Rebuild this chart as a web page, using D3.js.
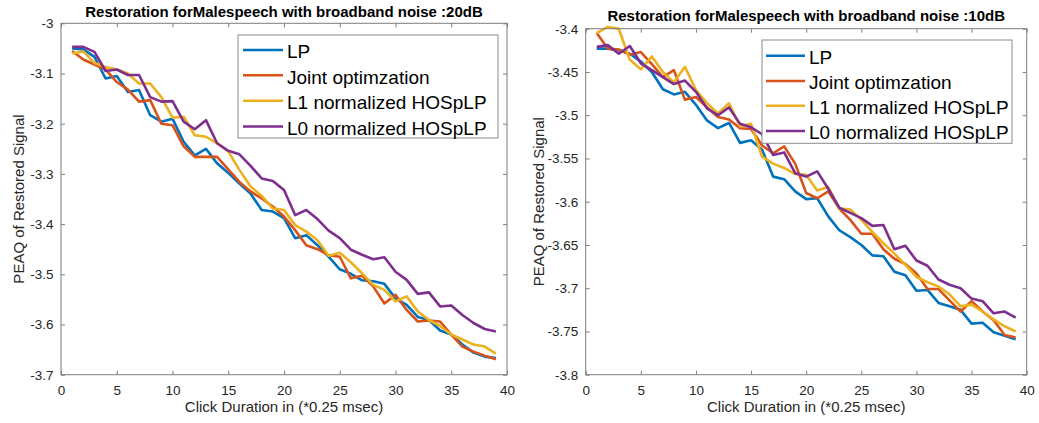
<!DOCTYPE html>
<html>
<head>
<meta charset="utf-8">
<script src="https://cdn.jsdelivr.net/npm/d3@7/dist/d3.min.js"></script>
<style>
  html, body { margin: 0; padding: 0; background: #fff; }
  svg { display: block; }
  text { font-family: "Liberation Sans", Arial, Helvetica, sans-serif; }
</style>
</head>
<body>
<svg id="chart" width="1039" height="423"></svg>
<script>
// ---------------- DATA ----------------
const clickDuration = [1,2,3,4,5,6,7,8,9,10,11,12,13,14,15,16,17,18,19,20,21,22,23,24,25,26,27,28,29,30,31,32,33,34,35,36,37,38,39];

const seriesNames = ["LP", "Joint optimzation", "L1 normalized HOSpLP", "L0 normalized HOSpLP"];

// Left panel: broadband noise 20 dB
const lp20 = [-3.050,-3.052,-3.067,-3.110,-3.105,-3.137,-3.133,-3.183,-3.196,-3.190,-3.236,-3.263,-3.250,-3.279,-3.298,-3.319,-3.339,-3.372,-3.375,-3.388,-3.428,-3.422,-3.442,-3.465,-3.490,-3.499,-3.512,-3.514,-3.519,-3.548,-3.561,-3.585,-3.591,-3.612,-3.620,-3.640,-3.656,-3.664,-3.667];
const joint20 = [-3.055,-3.072,-3.082,-3.092,-3.117,-3.132,-3.156,-3.153,-3.200,-3.203,-3.245,-3.266,-3.266,-3.266,-3.291,-3.316,-3.335,-3.349,-3.365,-3.385,-3.412,-3.442,-3.450,-3.462,-3.465,-3.508,-3.503,-3.524,-3.558,-3.541,-3.571,-3.594,-3.592,-3.594,-3.620,-3.644,-3.654,-3.662,-3.669];
const l1hos20 = [-3.060,-3.056,-3.079,-3.087,-3.092,-3.100,-3.120,-3.120,-3.147,-3.188,-3.186,-3.223,-3.226,-3.239,-3.255,-3.292,-3.325,-3.344,-3.369,-3.372,-3.402,-3.415,-3.432,-3.463,-3.457,-3.476,-3.498,-3.521,-3.531,-3.554,-3.544,-3.574,-3.591,-3.603,-3.620,-3.630,-3.640,-3.644,-3.658];
const l0hos20 = [-3.047,-3.047,-3.057,-3.095,-3.092,-3.103,-3.103,-3.147,-3.156,-3.155,-3.196,-3.211,-3.193,-3.239,-3.254,-3.261,-3.284,-3.309,-3.314,-3.332,-3.382,-3.372,-3.390,-3.413,-3.428,-3.451,-3.461,-3.470,-3.466,-3.495,-3.511,-3.539,-3.536,-3.564,-3.562,-3.581,-3.597,-3.609,-3.614];

// Right panel: broadband noise 10 dB
const lp10 = [-3.423,-3.423,-3.425,-3.429,-3.438,-3.450,-3.470,-3.476,-3.473,-3.488,-3.506,-3.515,-3.509,-3.532,-3.529,-3.540,-3.571,-3.574,-3.588,-3.597,-3.596,-3.617,-3.633,-3.641,-3.650,-3.662,-3.663,-3.681,-3.685,-3.703,-3.702,-3.717,-3.721,-3.725,-3.741,-3.740,-3.751,-3.755,-3.759];
const joint10 = [-3.405,-3.423,-3.424,-3.430,-3.427,-3.441,-3.456,-3.448,-3.482,-3.479,-3.491,-3.502,-3.505,-3.515,-3.516,-3.535,-3.544,-3.536,-3.556,-3.590,-3.596,-3.588,-3.608,-3.621,-3.637,-3.637,-3.655,-3.666,-3.672,-3.683,-3.701,-3.701,-3.714,-3.727,-3.715,-3.727,-3.737,-3.754,-3.757];
const l1hos10 = [-3.405,-3.398,-3.400,-3.436,-3.447,-3.432,-3.450,-3.462,-3.444,-3.471,-3.486,-3.498,-3.486,-3.513,-3.510,-3.548,-3.556,-3.561,-3.568,-3.569,-3.587,-3.583,-3.608,-3.609,-3.621,-3.635,-3.648,-3.660,-3.673,-3.687,-3.693,-3.698,-3.707,-3.721,-3.719,-3.727,-3.736,-3.744,-3.750];
const l0hos10 = [-3.421,-3.419,-3.429,-3.420,-3.440,-3.448,-3.456,-3.464,-3.460,-3.473,-3.492,-3.500,-3.491,-3.510,-3.514,-3.522,-3.546,-3.543,-3.567,-3.571,-3.565,-3.585,-3.607,-3.613,-3.619,-3.628,-3.627,-3.655,-3.651,-3.668,-3.674,-3.690,-3.696,-3.700,-3.712,-3.715,-3.729,-3.727,-3.734];

const xTicks = [0,5,10,15,20,25,30,35,40];
const yTicksLeft = [-3.7,-3.6,-3.5,-3.4,-3.3,-3.2,-3.1,-3];
const yTicksRight = [-3.8,-3.75,-3.7,-3.65,-3.6,-3.55,-3.5,-3.45,-3.4];

const titleLeft = "Restoration forMalespeech with broadband noise :20dB";
const titleRight = "Restoration forMalespeech with broadband noise :10dB";
const xLabel = "Click Duration in (*0.25 msec)";
const yLabel = "PEAQ of Restored Signal";

const colors = ["#0072BD", "#D95319", "#EDB120", "#7E2F8E"];

// ---------------- DRAW ----------------
const svg = d3.select("#chart");

function panel(cfg) {
  const x = d3.scaleLinear().domain([0, 40]).range([cfg.x0, cfg.x1]);
  const y = d3.scaleLinear().domain(cfg.yDomain).range([cfg.yBottom, cfg.yTop]);
  const g = svg.append("g");
  const axisColor = "#7d7d7d";
  const textColor = "#262626";

  // data lines
  const line = d3.line().x((d, i) => x(clickDuration[i])).y(d => y(d));
  cfg.series.forEach((s, k) => {
    g.append("path")
      .datum(s)
      .attr("d", line)
      .attr("fill", "none")
      .attr("stroke", colors[k])
      .attr("stroke-width", 2.6)
      .attr("stroke-linejoin", "round");
  });

  // axes
  const fmt = d => String(d).replace("-", "-");
  const bottom = g.append("g").attr("transform", `translate(0,${cfg.yBottom})`)
    .call(d3.axisBottom(x).tickValues(xTicks).tickSize(-4).tickPadding(11).tickFormat(d => d));
  const top = g.append("g").attr("transform", `translate(0,${cfg.yTop})`)
    .call(d3.axisTop(x).tickValues(xTicks).tickSize(-4).tickFormat(""));
  const left = g.append("g").attr("transform", `translate(${cfg.x0},0)`)
    .call(d3.axisLeft(y).tickValues(cfg.yTicks).tickSize(-4).tickPadding(7.5).tickFormat(fmt));
  const right = g.append("g").attr("transform", `translate(${cfg.x1},0)`)
    .call(d3.axisRight(y).tickValues(cfg.yTicks).tickSize(-4).tickFormat(""));
  [bottom, top, left, right].forEach(a => {
    a.select(".domain").remove();
    a.selectAll(".tick line").attr("stroke", axisColor);
    a.selectAll(".tick text").attr("fill", textColor)
      .style("font-size", "13.5px")
      .style("font-family", "'Liberation Sans', Arial, sans-serif");
  });
  g.append("rect")
    .attr("x", cfg.x0).attr("y", cfg.yTop)
    .attr("width", cfg.x1 - cfg.x0).attr("height", cfg.yBottom - cfg.yTop)
    .attr("fill", "none").attr("stroke", axisColor).attr("stroke-width", 1);

  // title
  g.append("text")
    .attr("x", (cfg.x0 + cfg.x1) / 2).attr("y", cfg.titleY)
    .attr("text-anchor", "middle")
    .style("font-size", "15px").style("font-weight", "bold")
    .attr("fill", "#000")
    .text(cfg.title);

  // x label
  g.append("text")
    .attr("x", (cfg.x0 + cfg.x1) / 2).attr("y", 412)
    .attr("text-anchor", "middle")
    .style("font-size", "15px")
    .attr("fill", textColor)
    .text(xLabel);

  // y label
  g.append("text")
    .attr("transform", `translate(${cfg.yLabelX},${(cfg.yTop + cfg.yBottom) / 2}) rotate(-90)`)
    .attr("text-anchor", "middle")
    .style("font-size", "15px")
    .attr("fill", textColor)
    .text(yLabel);

  // legend
  const L = cfg.legend;
  g.append("rect")
    .attr("x", L.x0).attr("y", L.y0)
    .attr("width", L.x1 - L.x0).attr("height", L.y1 - L.y0)
    .attr("fill", "#fff").attr("stroke", "#8a8a8a").attr("stroke-width", 1);
  seriesNames.forEach((name, k) => {
    const ly = L.rows[k];
    g.append("line")
      .attr("x1", L.lineX0).attr("x2", L.lineX1)
      .attr("y1", ly).attr("y2", ly)
      .attr("stroke", colors[k]).attr("stroke-width", 2.6);
    g.append("text")
      .attr("x", L.textX).attr("y", ly + 1.7)
      .attr("dy", "0.35em")
      .style("font-size", "19px")
      .attr("fill", "#000")
      .text(name);
  });
}

panel({
  x0: 61, x1: 507, yTop: 23.3, yBottom: 374.7,
  yDomain: [-3.7, -3], yTicks: yTicksLeft,
  series: [lp20, joint20, l1hos20, l0hos20],
  title: titleLeft, titleY: 17.3, yLabelX: 23.5,
  legend: { x0: 238, x1: 498, y0: 35, y1: 138, rows: [50, 75.3, 100.7, 126.5], lineX0: 243, lineX1: 283, textX: 287 }
});

panel({
  x0: 585.7, x1: 1026.7, yTop: 28.7, yBottom: 374.7,
  yDomain: [-3.8, -3.4], yTicks: yTicksRight,
  series: [lp10, joint10, l1hos10, l0hos10],
  title: titleRight, titleY: 21, yLabelX: 543.5,
  legend: { x0: 762, x1: 1012, y0: 40, y1: 143.3, rows: [55.7, 81, 105.7, 131], lineX0: 766, lineX1: 805, textX: 809 }
});
</script>
</body>
</html>
